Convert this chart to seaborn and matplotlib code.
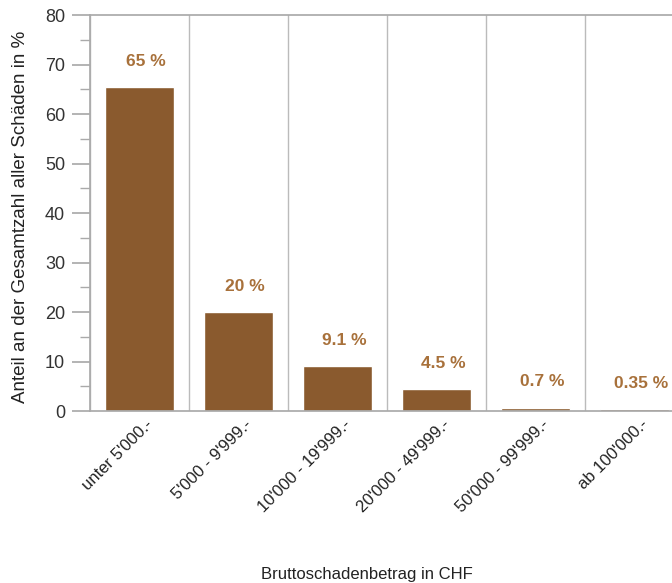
import pandas as pd
import matplotlib.pyplot as plt
import matplotlib.transforms as mtransforms
import seaborn as sns

categories = ["unter 5'000.-", "5'000 - 9'999.-", "10'000 - 19'999.-",
              "20'000 - 49'999.-", "50'000 - 99'999.-", "ab 100'000.-"]
shares = [65.5, 20.0, 9.1, 4.5, 0.7, 0.35]
value_labels = ["65 %", "20 %", "9.1 %", "4.5 %", "0.7 %", "0.35 %"]

df = pd.DataFrame({"Betrag": categories, "Anteil": shares})

sns.set_theme(style="white")
plt.rcParams['font.family'] = ['Liberation Sans', 'DejaVu Sans']

fig = plt.figure(figsize=(6.72, 5.83), dpi=100)
ax = fig.add_axes([0.134, 0.295, 0.884, 0.679])

sns.barplot(data=df, x="Betrag", y="Anteil", color="#8A5A2E", saturation=1,
            width=0.7, ax=ax)

anns = ax.bar_label(ax.containers[0], labels=value_labels, padding=13,
                    color="#A8713B", fontsize=12.5, fontweight="bold")
for a in anns:
    a.xyann = (4.5, 13)

ax.set_xlim(-0.5, len(categories) - 0.5)
ax.set_ylim(0, 80)
ax.set_yticks(range(0, 81, 10))
ax.set_yticks(range(5, 80, 10), minor=True)
ax.set_xticks([i + 0.5 for i in range(-1, len(categories))], minor=True)
ax.grid(which="minor", axis="x", color="#BBBBBB", linewidth=1)
ax.tick_params(axis="y", which="major", length=13, color="#AAAAAA", labelsize=13,
               left=True, pad=5)
ax.tick_params(axis="y", which="minor", length=7, color="#AAAAAA", left=True)
ax.tick_params(axis="x", which="both", length=0, labelsize=12, pad=4)
for lab in ax.get_yticklabels():
    lab.set_color("#333333")
plt.setp(ax.get_xticklabels(), rotation=45, ha="right", rotation_mode="anchor",
         color="#222222")
shift = mtransforms.ScaledTranslation(4 / 72, 0, fig.dpi_scale_trans)
for lab in ax.get_xticklabels():
    lab.set_transform(lab.get_transform() + shift)

for side in ["left", "top", "bottom"]:
    ax.spines[side].set_color("#AAAAAA")
ax.spines["right"].set_visible(False)

ax.set_xlabel("Bruttoschadenbetrag in CHF", fontsize=12, color="#222222")
ax.xaxis.set_label_coords(0.466, -0.395)
ax.set_ylabel("Anteil an der Gesamtzahl aller Schäden in %", fontsize=13.5,
              color="#222222")
ax.yaxis.set_label_coords(-0.102, 0.49)

fig.savefig("out.png", dpi=100)
